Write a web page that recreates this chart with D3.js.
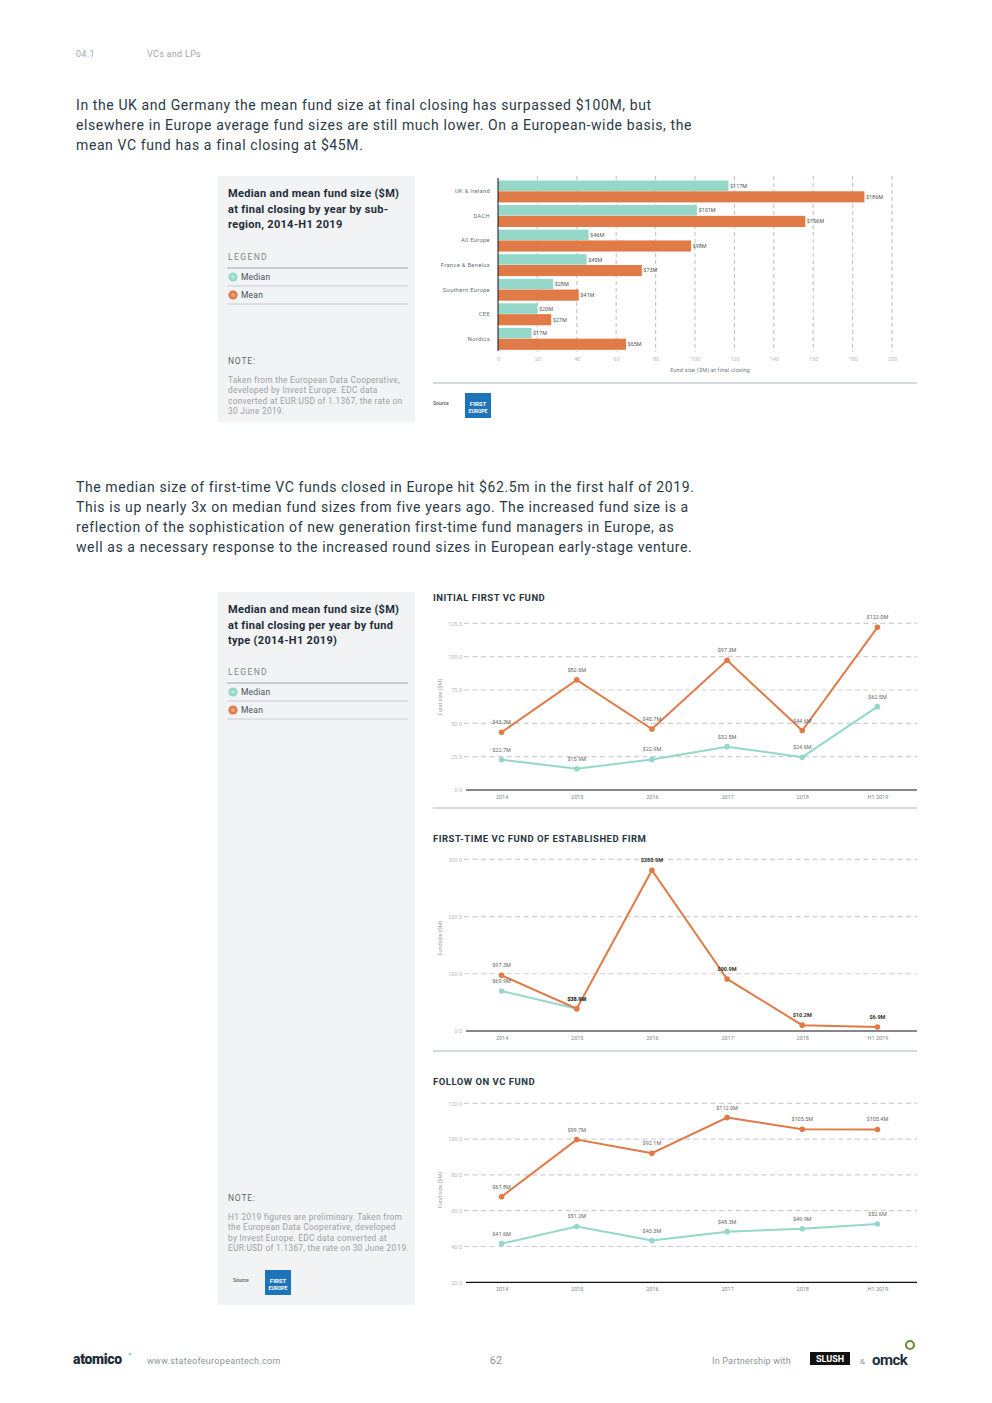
<!DOCTYPE html>
<html><head><meta charset="utf-8">
<script src="https://cdn.jsdelivr.net/npm/d3@7"></script>
<style>
body{margin:0;background:#fff;}
svg{display:block;font-family:Roboto, "Noto Sans", sans-serif;}
</style></head><body>
<svg id="c" width="992" height="1403"></svg>
<script>
// ---------- DATA ----------
const regions = ["UK & Ireland","DACH","All Europe","France & Benelux","Southern Europe","CEE","Nordics"];
const regionMedian = [117,101,46,45,28,20,17];
const regionMean = [186,156,98,73,41,27,65];
const barTicks = [0,20,40,60,80,100,120,140,160,180,200];

const years = ["2014","2015","2016","2017","2018","H1 2019"];
const initialMean = [43.3,82.6,45.7,97.3,44.6,122.0];
const initialMedian = [22.7,15.9,22.9,32.5,24.6,62.5];
const initialTicks = [0,25,50,75,100,125];

const establishedMean = [97.3,38.9,280.9,90.9,10.2,6.9];
const establishedMedian = [69.9,38.9,null,null,null,null];
const establishedTicks = [0,100,200,300];

const followMean = [67.8,99.7,92.1,112.0,105.5,105.4];
const followMedian = [41.6,51.2,43.3,48.3,49.9,52.6];
const followTicks = [20,40,60,80,100,120];

const para1 = ["In the UK and Germany the mean fund size at final closing has surpassed $100M, but",
"elsewhere in Europe average fund sizes are still much lower. On a European-wide basis, the",
"mean VC fund has a final closing at $45M."];
const para2 = ["The median size of first-time VC funds closed in Europe hit $62.5m in the first half of 2019.",
"This is up nearly 3x on median fund sizes from five years ago. The increased fund size is a",
"reflection of the sophistication of new generation first-time fund managers in Europe, as",
"well as a necessary response to the increased round sizes in European early-stage venture."];

// ---------- STYLE ----------
const TEAL = "#95d8c9", ORANGE = "#e07a46", DARK = "#1e2c38";
const svg = d3.select("#c");

function txt(x,y,s,o={}){
  const t = svg.append("text").attr("x",x).attr("y",y).text(s)
    .attr("font-size",o.size||10).attr("fill",o.fill||DARK)
    .attr("font-weight",o.weight||400).attr("text-anchor",o.anchor||"start");
  if(o.ls) t.attr("letter-spacing",o.ls);
  return t;
}

// header
txt(76,57,"04.1",{size:9,fill:"#a0a5aa",ls:0.3});
txt(147,57,"VCs and LPs",{size:9,fill:"#a0a5aa",ls:0.3});

// paragraphs
para1.forEach((l,i)=>txt(76,110+i*20,l,{size:14,fill:"#2b3945",ls:0.6}));
para2.forEach((l,i)=>txt(76,492+i*20,l,{size:14,fill:"#2b3945",ls:0.6}));

// ---------- side panels ----------
function legendIcon(x,y,c){
  svg.append("circle").attr("cx",x).attr("cy",y).attr("r",4.6).attr("fill",c);
  svg.append("circle").attr("cx",x).attr("cy",y).attr("r",2).attr("fill","#fff").attr("opacity",0.35);
}
function panel(y0,h,titleLines,legY,noteY,noteLines,srcY){
  svg.append("rect").attr("x",218).attr("y",y0).attr("width",197).attr("height",h).attr("fill","#f2f3f4");
  titleLines.forEach((l,i)=>txt(228,y0+21+i*15.5,l,{size:11,weight:700,fill:DARK,ls:0.3}));
  txt(228,legY,"LEGEND",{size:8.5,fill:"#7d868e",ls:1.4});
  [[legY+8,2],[legY+26,1],[legY+44,1]].forEach(([yy,w])=>svg.append("line").attr("x1",227).attr("x2",408).attr("y1",yy).attr("y2",yy).attr("stroke","#c9ccd0").attr("stroke-width",w));
  legendIcon(233,legY+17,TEAL); txt(241,legY+20,"Median",{size:8.5,fill:"#46525c",ls:0.2});
  legendIcon(233,legY+35,ORANGE); txt(241,legY+38,"Mean",{size:8.5,fill:"#46525c",ls:0.2});
  txt(228,noteY,"NOTE:",{size:8.5,fill:"#5c666f",ls:0.8});
  noteLines.forEach((l,i)=>txt(228,noteY+19+i*10.3,l,{size:8.3,fill:"#9ba1a7",ls:0.3}));
  if(srcY!=null) logo(233,srcY);
}
function logo(x,y){
  txt(x,y+12,"Source",{size:5,fill:"#777",weight:700});
  svg.append("rect").attr("x",x+32).attr("y",y).attr("width",26).attr("height",25).attr("fill","#1d74b8");
  txt(x+45,y+13,"FIRST",{size:6,fill:"#fff",weight:700,anchor:"middle"});
  txt(x+45,y+20,"EUROPE",{size:5,fill:"#fff",weight:700,anchor:"middle"});
}

panel(176,246,["Median and mean fund size ($M)","at final closing by year by sub-","region, 2014-H1 2019"],260,364,
  ["Taken from the European Data Cooperative,","developed by Invest Europe. EDC data","converted at EUR:USD of 1.1367, the rate on","30 June 2019."],null);
panel(592,713,["Median and mean fund size ($M)","at final closing per year by fund","type (2014-H1 2019)"],675,1201,
  ["H1 2019 figures are preliminary. Taken from","the European Data Cooperative, developed","by Invest Europe. EDC data converted at","EUR:USD of 1.1367, the rate on 30 June 2019."],1270);

// ---------- bar chart ----------
const bx = d3.scaleLinear().domain([0,200]).range([498,892]);
const by = d3.scaleBand().domain(regions).range([179,351]).paddingInner(0.12).paddingOuter(0.06);
const bg = svg.append("g");
barTicks.filter(t=>t>0).forEach(t=>{
  bg.append("line").attr("x1",bx(t)).attr("x2",bx(t)).attr("y1",176).attr("y2",352)
    .attr("stroke","#c8c8c8").attr("stroke-width",1.2).attr("stroke-dasharray","4,3");
});
const half = by.bandwidth()/2;
regions.forEach((r,i)=>{
  const y = by(r);
  bg.append("rect").attr("x",bx(0)).attr("y",y).attr("width",bx(regionMedian[i])-bx(0)).attr("height",half-0.3).attr("fill",TEAL);
  bg.append("rect").attr("x",bx(0)).attr("y",y+half).attr("width",bx(regionMean[i])-bx(0)).attr("height",half+0.3).attr("fill",ORANGE);
  txt(bx(regionMedian[i])+1.5,y+half/2+2,"$"+regionMedian[i]+"M",{size:5.5,fill:"#555"});
  txt(bx(regionMean[i])+1.5,y+half*1.5+2,"$"+regionMean[i]+"M",{size:5.5,fill:"#555"});
  txt(490,y+half+2,r,{size:5.8,fill:"#66707a",anchor:"end",ls:0.3});
});
bg.append("line").attr("x1",bx(0)).attr("x2",bx(0)).attr("y1",178).attr("y2",351).attr("stroke","#111").attr("stroke-width",1);
const bax = d3.axisBottom(bx).tickValues(barTicks).tickSize(0).tickPadding(0);
const bag = svg.append("g").attr("transform","translate(0,361)").call(bax);
bag.select(".domain").remove();
bag.selectAll("text").attr("font-size",5.5).attr("fill","#b8bcc0").attr("font-family","Roboto").attr("dy",0);
txt(710,372,"Fund size ($M) at final closing",{size:5.5,fill:"#6d7780",anchor:"middle",ls:0.2});
svg.append("line").attr("x1",433).attr("x2",917).attr("y1",383).attr("y2",383).attr("stroke","#c9ccd0").attr("stroke-width",1.5);
logo(433,393);

// ---------- line charts ----------
const px = d3.scalePoint().domain(years).range([464,915]).padding(0.5);
function lineChart(cfg){
  const y = d3.scaleLinear().domain(cfg.domain).range(cfg.range);
  txt(433,cfg.titleY,cfg.title,{size:9.5,weight:700,fill:"#26343f",ls:0.5});
  const g = svg.append("g");
  cfg.ticks.forEach((t,i)=>{
    if(i>0) g.append("line").attr("x1",464).attr("x2",917).attr("y1",y(t)).attr("y2",y(t))
      .attr("stroke","#cfcfcf").attr("stroke-width",1.2).attr("stroke-dasharray","5,3.5");
  });
  const yax = d3.axisLeft(y).tickValues(cfg.ticks).tickSize(0).tickPadding(0).tickFormat(d3.format(".1f"));
  const ya = svg.append("g").attr("transform","translate(462,0)").call(yax);
  ya.select(".domain").remove();
  ya.selectAll("text").attr("font-size",5.5).attr("fill","#b5b9bd").attr("font-family","Roboto");
  g.append("line").attr("x1",466).attr("x2",917).attr("y1",y(cfg.domain[0])).attr("y2",y(cfg.domain[0])).attr("stroke","#111").attr("stroke-width",1.2);
  const xax = d3.axisBottom(px).tickSize(0).tickPadding(0);
  const xa = svg.append("g").attr("transform",`translate(0,${y(cfg.domain[0])+9})`).call(xax);
  xa.select(".domain").remove();
  xa.selectAll("text").attr("font-size",5.5).attr("fill","#7d868e").attr("font-family","Roboto").attr("dy",0);
  svg.append("text").attr("transform",`translate(442,${cfg.axisTitleY}) rotate(-90)`).attr("text-anchor","middle")
    .attr("font-size",5.5).attr("fill","#9aa1a8").text(cfg.axisTitle);
  const series = [[cfg.median,TEAL,false],[cfg.mean,ORANGE,true]];
  series.forEach(([vals,col])=>{
    const pts = years.map((yr,i)=>({yr,v:vals[i]})).filter(d=>d.v!=null);
    g.append("path").datum(pts).attr("fill","none").attr("stroke",col).attr("stroke-width",2)
      .attr("d",d3.line().x(d=>px(d.yr)).y(d=>y(d.v)));
    pts.forEach(d=>g.append("circle").attr("cx",px(d.yr)).attr("cy",y(d.v)).attr("r",2.8).attr("fill",col));
  });
  series.forEach(([vals,col,isMean])=>{
    years.forEach((yr,i)=>{
      if(vals[i]==null) return;
      const strong = cfg.strong && isMean && i>0;
      txt(px(yr),y(vals[i])-8,"$"+vals[i].toFixed(1)+"M",{size:5.5,fill:strong?"#333":"#666",weight:strong?700:400,anchor:"middle"});
    });
  });
  if(cfg.sepY) svg.append("line").attr("x1",433).attr("x2",917).attr("y1",cfg.sepY).attr("y2",cfg.sepY).attr("stroke","#c9ccd0").attr("stroke-width",1.5);
}
lineChart({title:"INITIAL FIRST VC FUND",titleY:601,domain:[0,125],range:[790,623.3],ticks:initialTicks,
  mean:initialMean,median:initialMedian,axisTitle:"Fund size ($M)",axisTitleY:697,sepY:808});
lineChart({title:"FIRST-TIME VC FUND OF ESTABLISHED FIRM",titleY:842,domain:[0,300],range:[1031,859.3],ticks:establishedTicks,
  mean:establishedMean,median:establishedMedian,axisTitle:"Fundsize ($M)",axisTitleY:938,sepY:1051,strong:true});
lineChart({title:"FOLLOW ON VC FUND",titleY:1085,domain:[20,120],range:[1282.3,1103.3],ticks:followTicks,
  mean:followMean,median:followMedian,axisTitle:"Fund size ($M)",axisTitleY:1190});

// ---------- footer ----------
txt(73,1364,"atomico",{size:14,weight:900,fill:DARK,ls:-0.3});
svg.append("circle").attr("cx",130).attr("cy",1354).attr("r",1.5).attr("fill",TEAL);
txt(147,1364,"www.stateofeuropeantech.com",{size:9,fill:"#8d949a",ls:0.3});
txt(496,1364,"62",{size:11,fill:"#8d949a",anchor:"middle"});
txt(712,1364,"In Partnership with",{size:9,fill:"#8d949a",ls:0.2});
svg.append("rect").attr("x",810).attr("y",1352).attr("width",40).attr("height",13).attr("fill","#111");
txt(830,1362,"SLUSH",{size:9,fill:"#fff",weight:700,anchor:"middle"});
txt(860,1364,"&",{size:8,fill:"#8d949a"});
txt(872,1365,"omck",{size:15,weight:700,fill:DARK,ls:-0.5});
svg.append("circle").attr("cx",910).attr("cy",1345).attr("r",4).attr("fill","none").attr("stroke","#6b8e3a").attr("stroke-width",2.2);
</script></body></html>
